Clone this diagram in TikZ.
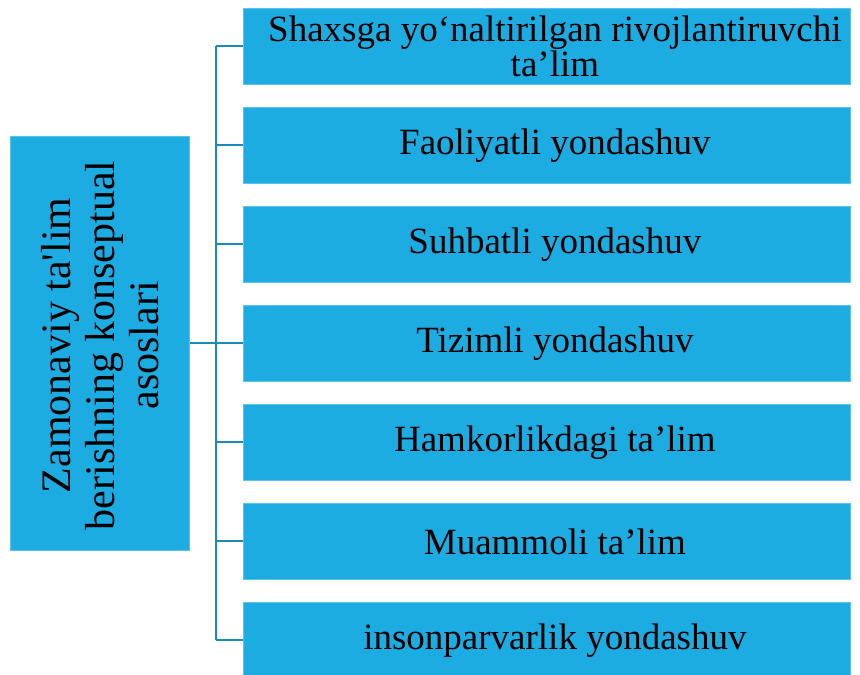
\documentclass[tikz,border=0pt]{standalone}
\usepackage{fontspec}
\setmainfont{Liberation Serif}
\definecolor{boxblue}{HTML}{1DACE2}
\definecolor{boxedge}{HTML}{5CC3EA}
\definecolor{linkblue}{HTML}{1A8BB9}
\begin{document}
\begin{tikzpicture}[x=1pt,y=-1pt,
  itembox/.style={draw=boxedge,line width=0.8pt,fill=boxblue,minimum width=607pt,minimum height=76pt,inner sep=0pt,anchor=north west},
  itemtext/.style={align=center,font=\fontsize{37}{35}\selectfont,inner sep=0pt,xshift=8pt},
  link/.style={draw=linkblue,line width=2pt}]
\useasboundingbox (0,0) rectangle (860,675);
\node[draw=boxedge,line width=0.8pt,fill=boxblue,minimum width=179pt,minimum height=414pt,inner sep=0pt,anchor=north west] (main) at (10,136) {};
\node[rotate=90,align=center,font=\fontsize{42}{44}\selectfont,xshift=-2pt] (maintext) at (main.center) {Zamonaviy ta\textquotesingle lim\\berishning konseptual\\asoslari};
\foreach \n/\y in {b1/8,b2/107,b3/206,b4/305,b5/404,b6/503,b7/602}{
  \node[itembox] (\n) at (243,\y) {};
}
\node[itemtext] (t1) at (b1.center) {Shaxsga yo‘naltirilgan rivojlantiruvchi\\ta’lim};
\node[itemtext] (t2) at (b2.center) {Faoliyatli yondashuv};
\node[itemtext] (t3) at (b3.center) {Suhbatli yondashuv};
\node[itemtext] (t4) at (b4.center) {Tizimli yondashuv};
\node[itemtext] (t5) at (b5.center) {Hamkorlikdagi ta’lim};
\node[itemtext] (t6) at (b6.center) {Muammoli ta’lim};
\node[itemtext] (t7) at (b7.center) {insonparvarlik yondashuv};
\coordinate (trunk) at (216,0);
\draw[link] (main.east |- b4.west) -- (trunk |- b4.west);
\draw[link] (trunk |- b1.west) -- (trunk |- b7.west);
\foreach \b in {b1,b2,b3,b4,b5,b6,b7}{
  \draw[link] (trunk |- \b.west) -- (\b.west);
}
\end{tikzpicture}
\end{document}
